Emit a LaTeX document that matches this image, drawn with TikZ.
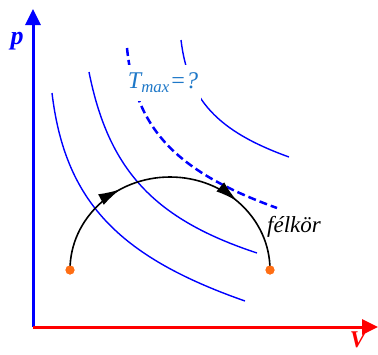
\documentclass[tikz,border=0pt]{standalone}
\usepackage{fontspec}
\setmainfont{Liberation Serif}
\usetikzlibrary{arrows.meta, decorations.markings}
\definecolor{dotorange}{RGB}{255,110,20}
\definecolor{labelblue}{RGB}{30,120,200}

\begin{document}
\begin{tikzpicture}[x=1pt,y=-1pt,
  axis/.style={line width=3pt,-{Triangle[length=16pt,width=15pt]}},
  iso/.style={blue,line width=1.4pt},
  isodash/.style={blue,line width=2.5pt,dash pattern=on 8pt off 4pt},
  dot/.style={circle,fill=dotorange,inner sep=0pt,minimum size=9pt},
  semi/.style={black,line width=1.6pt,postaction={decorate},decoration={markings,
    mark=at position 0.33 with {\arrow{Latex[length=22pt,width=12pt]}},
    mark=at position 0.74 with {\arrow{Latex[length=22pt,width=12pt]}}}}]
  \useasboundingbox (0,0) rectangle (378,354);
  % axes
  \coordinate (o) at (33,327);
  \coordinate (ptop) at (33,9);
  \coordinate (vend) at (378,327);
  \draw[axis,blue] (o) -- (ptop);
  \draw[axis,red] (o) -- (vend);
  \node[blue,font=\fontsize{26}{26}\selectfont\bfseries\itshape] (plabel) at (17,41) {p};
  \node[red,font=\fontsize{24}{24}\selectfont\bfseries\itshape,anchor=south,inner sep=0pt] (vlabel) at (358,348) {V};
  % isotherms
  \draw[iso] (52,93) .. controls (64.8,200) and (117,256.2) .. (245,301);
  \draw[iso] (89,72) .. controls (108.6,170.2) and (154,219) .. (257,253);
  \draw[isodash] (127,48) .. controls (135,128.3) and (175.5,171.5) .. (277,208);
  \draw[iso] (181,40) .. controls (188.1,99.6) and (217.3,131.2) .. (289,157);
  \node[fill=white,text=labelblue,minimum width=76pt,minimum height=36pt,inner sep=0pt,
    font=\fontsize{24}{24}\selectfont\itshape] (tmax) at (163,83) {T\textsubscript{max}=?};
  % half circle
  \node[dot] (a) at (70,270) {};
  \node[dot] (b) at (270,270) {};
  \draw[semi] (a.center) arc[start angle=180,end angle=0,x radius=100pt,y radius=93pt];
  \node[dot] at (a) {};
  \node[dot] at (b) {};
  \node[font=\fontsize{23}{23}\selectfont\itshape,anchor=base] (felkor) at (294,232) {félkör};
\end{tikzpicture}
\end{document}
